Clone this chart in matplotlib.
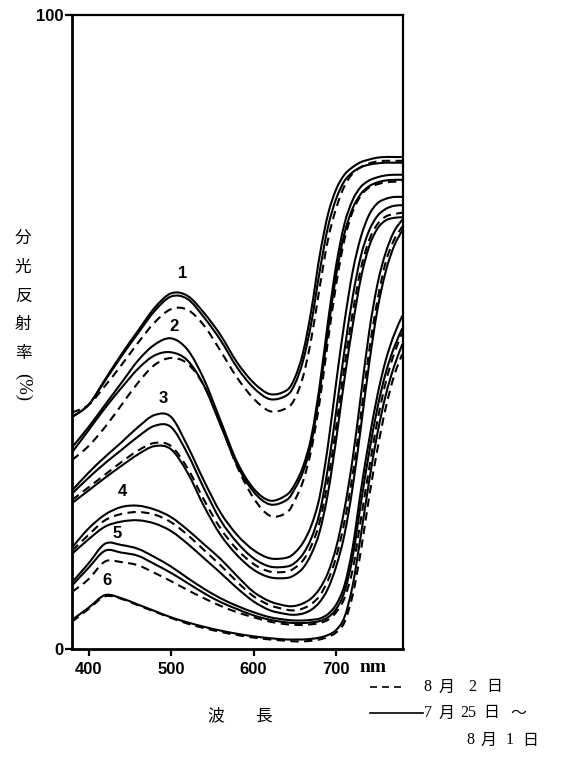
import matplotlib
matplotlib.use('Agg')
import matplotlib.pyplot as plt
from matplotlib.lines import Line2D
from matplotlib.path import Path
from matplotlib.patches import PathPatch

# wavelength grid (nm) shared by all curves
WAVELENGTH = [380, 400, 420, 440, 460, 480, 500, 520, 540, 560, 580, 600, 620, 640,
              650, 660, 670, 680, 690, 700, 710, 720, 730, 740, 750, 760, 770, 780]

# reflectance (%); A/B/E = solid (7/25-8/1), D = dashed (8/2)
G1_A = [36.6, 38.5, 42.5, 46.5, 50.2, 53.8, 56.1, 55.7, 53.0, 49.5, 45.2, 42.0, 40.2, 40.8,
        42.8, 46.8, 53.5, 62.0, 68.5, 72.5, 74.8, 76.0, 76.8, 77.2, 77.5, 77.6, 77.6, 77.6]
G1_B = [36.6, 38.5, 42.3, 46.2, 49.8, 53.3, 55.6, 55.2, 52.3, 48.7, 44.4, 41.2, 39.4, 40.0,
        41.8, 45.5, 51.5, 59.5, 66.5, 71.0, 73.8, 75.2, 76.0, 76.4, 76.6, 76.7, 76.7, 76.7]
G1_D = [37.3, 38.5, 41.5, 44.8, 48.3, 51.5, 53.6, 53.5, 51.0, 47.0, 42.8, 39.5, 37.5, 38.0,
        39.5, 43.0, 49.0, 57.0, 64.5, 69.5, 73.0, 75.0, 76.0, 76.6, 76.9, 77.0, 77.0, 77.0]

G2_A = [31.8, 35.0, 38.5, 42.0, 45.5, 48.0, 49.0, 47.2, 42.5, 36.0, 29.5, 25.3, 23.4, 24.3,
        26.0, 28.8, 33.5, 41.5, 51.5, 60.5, 67.0, 70.8, 72.9, 73.9, 74.4, 74.7, 74.8, 74.8]
G2_B = [31.0, 34.5, 38.0, 41.2, 44.2, 46.3, 46.8, 45.5, 41.5, 35.3, 29.0, 24.8, 22.8, 23.5,
        25.3, 28.0, 32.5, 40.5, 50.0, 59.0, 65.5, 69.5, 71.8, 73.0, 73.6, 73.9, 74.0, 74.0]
G2_D = [29.8, 32.0, 35.0, 38.5, 42.0, 44.8, 45.9, 45.0, 41.5, 35.5, 28.8, 23.8, 21.0, 21.5,
        23.5, 26.5, 31.5, 39.0, 48.5, 57.5, 64.5, 69.0, 71.5, 72.8, 73.3, 73.6, 73.7, 73.7]

G3_A = [25.0, 27.8, 30.3, 32.6, 35.0, 36.9, 36.6, 32.0, 26.5, 21.5, 18.0, 15.6, 14.3, 14.4,
        15.2, 16.8, 19.5, 24.0, 32.0, 42.0, 51.5, 59.5, 65.0, 68.5, 70.3, 71.0, 71.3, 71.3]
G3_B = [24.5, 27.0, 29.3, 31.4, 33.5, 35.2, 35.0, 30.8, 25.3, 20.3, 16.8, 14.3, 13.0, 13.0,
        13.6, 15.0, 17.5, 21.5, 28.5, 37.5, 47.0, 55.5, 62.0, 66.0, 68.3, 69.4, 69.9, 70.0]
G3_D = [23.5, 25.5, 27.5, 29.5, 31.3, 32.5, 32.0, 28.5, 23.5, 19.0, 15.7, 13.4, 12.2, 12.2,
        12.8, 14.0, 16.3, 20.0, 26.5, 35.0, 44.5, 53.0, 60.0, 64.5, 67.0, 68.2, 68.6, 68.8]
G3_E = [23.0, 25.0, 27.0, 28.9, 30.7, 32.0, 31.5, 27.8, 22.5, 18.0, 14.8, 12.5, 11.3, 11.2,
        11.7, 12.8, 15.0, 18.5, 24.5, 33.0, 42.5, 51.0, 58.5, 63.5, 66.3, 67.6, 68.0, 68.1]

G4_A = [16.0, 19.0, 21.2, 22.4, 22.6, 22.0, 20.8, 18.8, 16.5, 14.2, 11.5, 9.0, 7.5, 6.8,
        6.8, 7.2, 8.0, 9.5, 12.0, 16.0, 22.0, 30.0, 40.0, 50.0, 57.5, 62.5, 65.8, 67.7]
G4_D = [15.5, 18.0, 20.3, 21.3, 21.6, 21.2, 20.0, 18.0, 15.6, 13.2, 10.6, 8.3, 6.9, 6.2,
        6.1, 6.4, 7.1, 8.4, 10.8, 14.5, 20.0, 27.5, 37.0, 47.0, 55.0, 61.0, 64.5, 66.6]
G4_B = [15.0, 17.3, 19.3, 20.1, 20.3, 19.8, 18.6, 16.6, 14.3, 12.0, 9.6, 7.5, 6.1, 5.5,
        5.4, 5.6, 6.2, 7.4, 9.5, 13.0, 18.0, 25.5, 35.0, 45.0, 53.5, 59.5, 63.5, 66.0]

G5_A = [10.5, 13.5, 16.6, 16.4, 15.8, 14.5, 13.0, 11.2, 9.5, 8.0, 6.8, 5.8, 5.0, 4.6,
        4.5, 4.5, 4.6, 4.8, 5.5, 7.0, 10.0, 16.0, 25.0, 33.0, 40.0, 45.5, 49.5, 52.5]
G5_B = [10.0, 12.8, 15.5, 15.2, 14.7, 13.4, 12.0, 10.4, 8.8, 7.4, 6.3, 5.3, 4.6, 4.2,
        4.1, 4.1, 4.2, 4.4, 5.0, 6.3, 9.0, 14.5, 23.0, 31.0, 38.0, 43.5, 47.5, 50.5]
G5_D = [9.0, 11.0, 13.8, 13.7, 13.2, 12.0, 10.7, 9.3, 8.0, 6.8, 5.8, 5.0, 4.3, 3.9,
        3.8, 3.8, 3.9, 4.1, 4.6, 5.8, 8.0, 12.5, 20.5, 28.5, 36.0, 42.0, 46.5, 49.8]

G6_A = [4.6, 6.5, 8.5, 8.0, 7.0, 6.0, 5.0, 4.2, 3.5, 2.9, 2.4, 2.0, 1.7, 1.5,
        1.5, 1.5, 1.6, 1.8, 2.2, 3.0, 5.0, 10.0, 18.0, 26.5, 34.0, 40.0, 44.5, 48.0]
G6_D = [4.3, 6.3, 8.3, 7.9, 6.9, 5.9, 4.9, 4.0, 3.3, 2.7, 2.2, 1.8, 1.5, 1.3,
        1.2, 1.2, 1.3, 1.5, 1.9, 2.6, 4.2, 8.5, 15.5, 24.0, 31.5, 38.0, 43.0, 46.5]

SOLID = [G1_A, G1_B, G2_A, G2_B, G3_A, G3_B, G3_E, G4_A, G4_B, G5_A, G5_B, G6_A]
DASHED = [G1_D, G2_D, G3_D, G4_D, G5_D, G6_D]

GROUP_LABELS = ['1', '2', '3', '4', '5', '6']
XTICKS = [400, 500, 600, 700]
YTICKS = [0, 100]

# where the group numbers sit (nm, %)
LABEL_POS = [(514, 59.3), (503, 50.8), (491, 39.5), (441, 24.8), (435, 18.2), (423, 10.8)]

JP = ['Noto Sans CJK JP', 'DejaVu Sans']
SERIF = 'Liberation Serif'
BOLD_NUM = 'Liberation Sans'


def smooth_path(xs, ys):
    # draw a smooth (Catmull-Rom style) bezier through the read points
    pts = list(zip(xs, ys))
    verts = [pts[0]]
    codes = [Path.MOVETO]
    n = len(pts)
    for i in range(n - 1):
        p0 = pts[i - 1] if i > 0 else pts[i]
        p1 = pts[i]
        p2 = pts[i + 1]
        p3 = pts[i + 2] if i + 2 < n else pts[i + 1]
        c1 = (p1[0] + (p2[0] - p0[0]) / 6, p1[1] + (p2[1] - p0[1]) / 6)
        c2 = (p2[0] - (p3[0] - p1[0]) / 6, p2[1] - (p3[1] - p1[1]) / 6)
        verts += [c1, c2, p2]
        codes += [Path.CURVE4] * 3
    return Path(verts, codes)


fig = plt.figure(figsize=(5.62, 7.58), dpi=100)
fig.patch.set_facecolor('white')
ax = fig.add_axes([72 / 562, 1 - 649 / 758, 331 / 562, 634 / 758])

for ys in SOLID:
    ax.add_patch(PathPatch(smooth_path(WAVELENGTH, ys), fill=False, edgecolor='black',
                           lw=1.5, capstyle='round', joinstyle='round'))
for ys in DASHED:
    ax.add_patch(PathPatch(smooth_path(WAVELENGTH, ys), fill=False, edgecolor='black',
                           lw=1.5, linestyle=(0, (4, 2.6))))

for lab, (xw, yv) in zip(GROUP_LABELS, LABEL_POS):
    ax.text(xw, yv, lab, ha='center', va='center', fontsize=12,
            fontweight='bold', family=BOLD_NUM)

ax.set_xlim(380, 781)
ax.set_ylim(0, 100)
ax.set_xticks(XTICKS)
ax.set_xticklabels([str(t) for t in XTICKS], fontweight='bold', family=BOLD_NUM, fontsize=12)
ax.set_yticks(YTICKS)
ax.set_yticklabels([str(t) for t in YTICKS], fontweight='bold', family=BOLD_NUM, fontsize=12)
ax.tick_params(axis='x', direction='out', length=5, width=1.6, pad=4)
ax.tick_params(axis='y', direction='out', length=5, width=1.6, pad=1)

for side in ['left', 'bottom']:
    ax.spines[side].set_linewidth(2.0)
for side in ['top', 'right']:
    ax.spines[side].set_linewidth(1.6)

# "nm" after the 700 tick label
fig.text(359 / 562, 1 - 668 / 758, 'nm', ha='left', va='center', fontsize=14,
         fontweight='bold', family=SERIF)

# vertical y-axis label
for ch, py in zip(['分', '光', '反', '射', '率'], [238, 267, 296, 325, 353]):
    fig.text(23 / 562, 1 - py / 758, ch, ha='center', va='center', fontsize=12, family=JP)
fig.text(23 / 562, 1 - 387 / 758, '(%)', ha='center', va='center', fontsize=13.5,
         family=SERIF, rotation=-90)

# x-axis label
fig.text(216 / 562, 1 - 716 / 758, '波', ha='center', va='center', fontsize=12, family=JP)
fig.text(263 / 562, 1 - 716 / 758, '長', ha='center', va='center', fontsize=12, family=JP)

# legend block, bottom right
fig.add_artist(Line2D([370 / 562, 401 / 562], [1 - 687 / 758] * 2, color='black', lw=1.2,
                      linestyle=(0, (4.2, 3.0))))
fig.add_artist(Line2D([370 / 562, 423 / 562], [1 - 713 / 758] * 2, color='black', lw=1.2))

legend_rows = [
    (687, [('8', 427), ('月', 447), ('2', 472), ('日', 494)]),
    (713, [('7', 428), ('月', 447), ('25', 468), ('日', 491), ('～', 518)]),
    (740, [('8', 470), ('月', 489), ('1', 510), ('日', 530)]),
]
for py, pieces in legend_rows:
    for txt, px in pieces:
        fam = SERIF if txt[0].isdigit() else JP[0]
        fig.text(px / 562, 1 - py / 758, txt, ha='center', va='center', fontsize=11.5,
                 family=fam)

fig.savefig('out.png', dpi=100, facecolor='white')
